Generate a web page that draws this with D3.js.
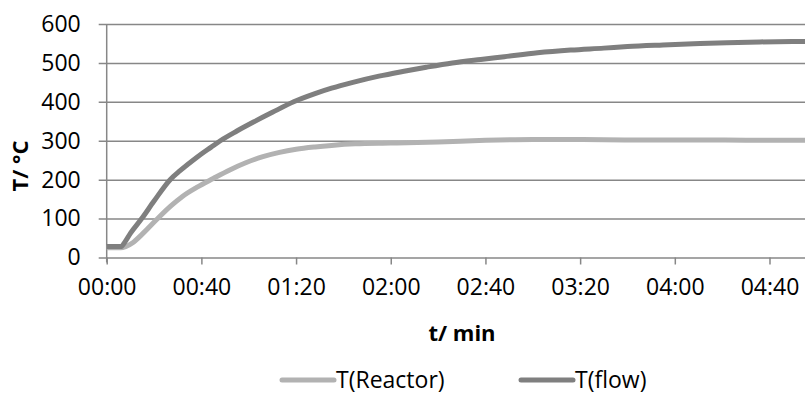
<!DOCTYPE html>
<html>
<head>
<meta charset="utf-8">
<script src="https://cdn.jsdelivr.net/npm/d3@7"></script>
<style>
body{margin:0;background:#fff;}
text{font-family:"Open Sans",sans-serif;fill:#000;}
</style>
</head>
<body>
<svg id="chart" width="805" height="394"></svg>
<script>
// time in minutes, temperatures in °C
var flow_t=[0,3,6,7.5,10,14.8,20,26.8,31,38,44,48,55,62,70,79,88,95,104,115,125,135,146,158,168,182,196,210,220,235,248,262,276,295];
var flow_T=[28,28,28,38,62,100,145,200,223,257,283,300,325,348,373,400,421,435,450,466,478,489,500,509,516,526,533,538,542,546,549,552,554,555];
var reactor_t=[0,3,6,8,11,15,21,27,32,38,45,52,59,66,73,80,88,95,105,120,140,160,180,200,220,240,260,280,295];
var reactor_T=[25,25,25,28,38,60,97,132,157,180,203,225,244,259,270,278,284,288,292,294,297,301,303,303,302,302,302,301,301];
var y_ticks=[0,100,200,300,400,500,600];
var x_ticks=[0,40,80,120,160,200,240,280];
var series=[
	{name:"T(Reactor)",t:reactor_t,v:reactor_T,color:"#b2b2b2"},
	{name:"T(flow)",t:flow_t,v:flow_T,color:"#7f7f7f"}
];

var svg=d3.select("#chart");
var p_left=106.7,p_right=805,p_top=24,p_bottom=257.5;
var fs="23px";
var x=d3.scaleLinear().domain([0,295]).range([p_left,p_right]);
var y=d3.scaleLinear().domain([0,600]).range([p_bottom,p_top]);

function fmt(m){
	var h=Math.floor(m/60),mm=m%60;
	return (h<10?"0":"")+h+":"+(mm<10?"0":"")+mm;
}

//y axis, gridlines start 8px left of the axis (tick marks)
var yAxis=d3.axisLeft(y).tickValues(y_ticks).tickSize(0).tickPadding(26);
var gy=svg.append("g")
	.attr("transform","translate("+p_left+",0)")
	.call(yAxis);
gy.select(".domain").remove();
gy.selectAll(".tick line")
	.attr("x1",-8).attr("x2",p_right-p_left)
	.attr("stroke","#878787").attr("stroke-width",1.5);
gy.selectAll("text").style("font-size",fs);

//x axis
var xAxis=d3.axisBottom(x).tickValues(x_ticks).tickFormat(fmt).tickSize(7).tickPadding(14);
var gx=svg.append("g")
	.attr("transform","translate(0,"+p_bottom+")")
	.call(xAxis);
gx.select(".domain").remove();
gx.selectAll("line").attr("stroke","#878787").attr("stroke-width",1.5);
gx.selectAll("text").style("font-size",fs);

//vertical axis line
svg.append("line")
	.attr("x1",p_left).attr("x2",p_left)
	.attr("y1",p_top).attr("y2",p_bottom+5)
	.attr("stroke","#878787").attr("stroke-width",1.5);

//curves
var line=d3.line()
	.x(function(d){return x(d[0]);})
	.y(function(d){return y(d[1]);})
	.curve(d3.curveMonotoneX);
series.forEach(function(s){
	var pts=s.t.map(function(t,i){return [t,s.v[i]];});
	svg.append("path")
		.attr("d",line(pts))
		.attr("fill","none")
		.attr("stroke",s.color)
		.attr("stroke-width",5);
});

//titles
svg.append("text")
	.attr("x",462).attr("y",341)
	.attr("text-anchor","middle")
	.style("font-size","22px").style("font-weight","bold")
	.text("t/ min");
svg.append("text")
	.attr("transform","translate(28,166) rotate(-90)")
	.attr("text-anchor","middle")
	.style("font-size","22px").style("font-weight","bold")
	.text("T/ °C");

//legend
var legend_x=[280,519];
series.forEach(function(s,i){
	svg.append("line")
		.attr("x1",legend_x[i]+2).attr("x2",legend_x[i]+54)
		.attr("y1",380).attr("y2",380)
		.attr("stroke",s.color).attr("stroke-width",5)
		.attr("stroke-linecap","round");
	svg.append("text")
		.attr("x",legend_x[i]+56).attr("y",388)
		.style("font-size",fs)
		.text(s.name);
});
</script>
</body>
</html>
